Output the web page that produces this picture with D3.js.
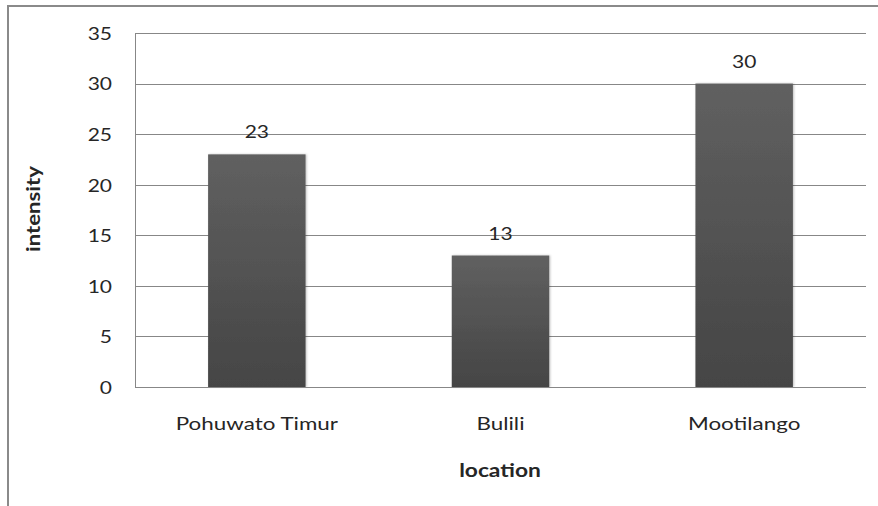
<!DOCTYPE html>
<html>
<head>
<meta charset="utf-8">
<script src="https://cdn.jsdelivr.net/npm/d3@7"></script>
<style>
  html, body { margin: 0; padding: 0; background: #fff; }
  svg { display: block; }
  text { font-family: Lato, "Open Sans", sans-serif; fill: #262626; }
</style>
</head>
<body>
<svg id="chart" width="878" height="506"></svg>
<script>
// Intensity by location
const categories = ["Pohuwato Timur", "Bulili", "Mootilango"];
const values = [23, 13, 30];
const yTicks = [0, 5, 10, 15, 20, 25, 30, 35];
const xTitle = "location";
const yTitle = "intensity";

const W = 878, H = 506;
const plot = { left: 135, right: 866, top: 33, bottom: 387 };
const gridColor = "#878787";
const numStretch = "scale(1.2,1)";
const labelStretch = "scale(1.28,1)";

const svg = d3.select("#chart");

// outer chart frame (left and top edges visible)
svg.append("path")
  .attr("d", `M8,${H} V6 H${W}`)
  .attr("fill", "none")
  .attr("stroke", "#8a8a8a")
  .attr("stroke-width", 2);

const defs = svg.append("defs");
const grad = defs.append("linearGradient")
  .attr("id", "barFill")
  .attr("x1", 0).attr("y1", 0).attr("x2", 0).attr("y2", 1);
grad.append("stop").attr("offset", "0%").attr("stop-color", "#606060");
grad.append("stop").attr("offset", "100%").attr("stop-color", "#454545");

const shadow = defs.append("filter").attr("id", "barShadow")
  .attr("x", "-10%").attr("y", "-10%").attr("width", "120%").attr("height", "120%");
shadow.append("feDropShadow")
  .attr("dx", 1).attr("dy", 0).attr("stdDeviation", 1)
  .attr("flood-color", "#000").attr("flood-opacity", 0.25);

const y = d3.scaleLinear().domain([0, 35]).range([plot.bottom, plot.top]);
const x = d3.scaleBand().domain(categories)
  .range([plot.left, plot.right])
  .paddingInner(0.6).paddingOuter(0.3);

// horizontal gridlines
svg.append("g")
  .selectAll("line")
  .data(yTicks)
  .join("line")
  .attr("x1", plot.left).attr("x2", plot.right)
  .attr("y1", d => Math.round(y(d)) + 0.5)
  .attr("y2", d => Math.round(y(d)) + 0.5)
  .attr("stroke", gridColor)
  .attr("stroke-width", 1);

// vertical axis line
svg.append("line")
  .attr("x1", plot.left + 0.5).attr("x2", plot.left + 0.5)
  .attr("y1", Math.round(y(35)) + 0.5).attr("y2", Math.round(y(0)) + 0.5)
  .attr("stroke", gridColor);

// y tick labels
const yAxis = d3.axisLeft(y).tickValues(yTicks).tickSize(0).tickPadding(0);
const yg = svg.append("g")
  .attr("transform", `translate(${plot.left - 23},0)`)
  .call(yAxis);
yg.select(".domain").remove();
yg.selectAll("text")
  .attr("font-family", "Lato, sans-serif")
  .attr("font-size", 17.5)
  .attr("fill", "#262626")
  .attr("x", 0)
  .attr("dy", "0.36em")
  .attr("transform", numStretch);

// bars
svg.append("g")
  .selectAll("rect")
  .data(values)
  .join("rect")
  .attr("x", (d, i) => x(categories[i]))
  .attr("y", d => y(d))
  .attr("width", x.bandwidth())
  .attr("height", d => y(0) - y(d))
  .attr("fill", "url(#barFill)")
  .attr("filter", "url(#barShadow)");

// value labels
svg.append("g")
  .selectAll("g")
  .data(values)
  .join("g")
  .attr("transform", (d, i) =>
    `translate(${x(categories[i]) + x.bandwidth() / 2},${y(d) - 16}) ${numStretch}`)
  .append("text")
  .attr("text-anchor", "middle")
  .attr("font-size", 17.5)
  .text(d => d);

// category labels
const xAxis = d3.axisBottom(x).tickSize(0).tickPadding(0);
const xg = svg.append("g")
  .attr("transform", `translate(0,${plot.bottom + 43})`)
  .call(xAxis);
xg.select(".domain").remove();
xg.selectAll("text")
  .attr("font-family", "Lato, sans-serif")
  .attr("font-size", 17.5)
  .attr("fill", "#262626")
  .attr("dy", 0)
  .attr("y", 0)
  .attr("transform", labelStretch);

// bottom axis line drawn over the bars
svg.append("line")
  .attr("x1", plot.left).attr("x2", plot.right)
  .attr("y1", Math.round(y(0)) + 0.5).attr("y2", Math.round(y(0)) + 0.5)
  .attr("stroke", gridColor);

// axis titles
svg.append("text")
  .attr("transform", `translate(500,477) scale(1.2,1)`)
  .attr("text-anchor", "middle")
  .attr("font-size", 19)
  .attr("font-weight", "bold")
  .attr("fill", "#111")
  .text(xTitle);

svg.append("text")
  .attr("transform", "translate(40,209) rotate(-90) scale(1.17,1)")
  .attr("text-anchor", "middle")
  .attr("font-size", 19)
  .attr("font-weight", "bold")
  .attr("fill", "#111")
  .text(yTitle);
</script>
</body>
</html>
